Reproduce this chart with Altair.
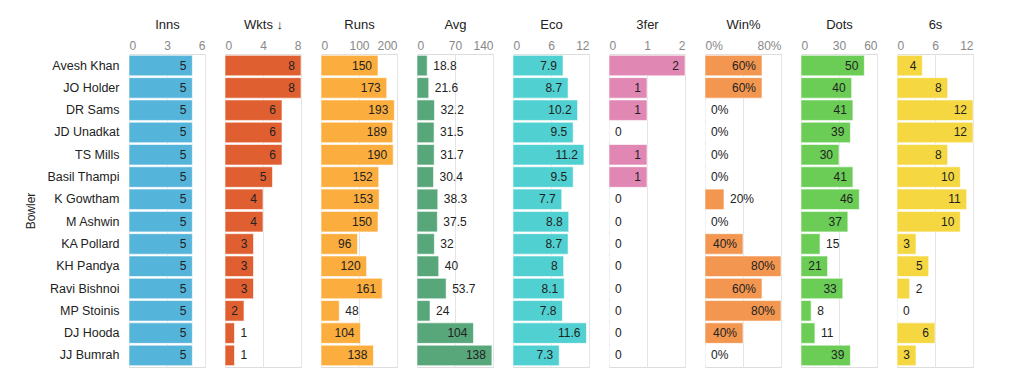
import altair as alt
import pandas as pd

bowlers = ["Avesh Khan", "JO Holder", "DR Sams", "JD Unadkat", "TS Mills", "Basil Thampi",
           "K Gowtham", "M Ashwin", "KA Pollard", "KH Pandya", "Ravi Bishnoi", "MP Stoinis",
           "DJ Hooda", "JJ Bumrah"]
inns = [5, 5, 5, 5, 5, 5, 5, 5, 5, 5, 5, 5, 5, 5]
wkts = [8, 8, 6, 6, 6, 5, 4, 4, 3, 3, 3, 2, 1, 1]
runs = [150, 173, 193, 189, 190, 152, 153, 150, 96, 120, 161, 48, 104, 138]
avg = [18.8, 21.6, 32.2, 31.5, 31.7, 30.4, 38.3, 37.5, 32, 40, 53.7, 24, 104, 138]
eco = [7.9, 8.7, 10.2, 9.5, 11.2, 9.5, 7.7, 8.8, 8.7, 8, 8.1, 7.8, 11.6, 7.3]
three_fer = [2, 1, 1, 0, 1, 1, 0, 0, 0, 0, 0, 0, 0, 0]
win_pct = [0.6, 0.6, 0, 0, 0, 0, 0.2, 0, 0.4, 0.8, 0.6, 0.8, 0.4, 0]
dots = [50, 40, 41, 39, 30, 41, 46, 37, 15, 21, 33, 8, 11, 39]
sixes = [4, 8, 12, 12, 8, 10, 11, 10, 3, 5, 2, 0, 6, 3]

titles = ["Inns", "Wkts ↓", "Runs", "Avg", "Eco", "3fer", "Win%", "Dots", "6s"]
series = [inns, wkts, runs, avg, eco, three_fer, win_pct, dots, sixes]
domains = [[0, 6], [0, 8], [0, 200], [0, 140], [0, 12], [0, 2], [0, 0.8], [0, 60], [0, 12]]
ticks = [[0, 3, 6], [0, 4, 8], [0, 100, 200], [0, 70, 140], [0, 6, 12], [0, 1, 2],
         [0, 0.4, 0.8], [0, 30, 60], [0, 6, 12]]
colors = ["#55b4d9", "#e05f31", "#fbad3d", "#57a77b", "#51d0d1", "#e187b4",
          "#f39650", "#6bcd56", "#f5d742"]

W = 76
H = 313
FONT = "Liberation Sans"


def fmt(v, is_pct):
    if is_pct:
        return f"{round(v * 100)}%"
    if float(v).is_integer():
        return str(int(v))
    return f"{v:g}"


panels = []
for i, (t, vals, dom, tk, col) in enumerate(zip(titles, series, domains, ticks, colors)):
    is_pct = t == "Win%"
    labels = [fmt(v, is_pct) for v in vals]
    inside = [(v / dom[1]) * W >= len(l) * 7 + 8 for v, l in zip(vals, labels)]
    df = pd.DataFrame({"Bowler": bowlers, "value": vals, "label": labels, "inside": inside})

    if i == 0:
        yax = alt.Axis(title="Bowler", ticks=False, domain=False, labelPadding=10,
                       labelFontSize=12.5, labelColor="#222", titleFontSize=12,
                       titleFontWeight="normal", titleColor="#222", titlePadding=9)
    else:
        yax = None

    axis_kw = dict(orient="top", title=t, values=tk, ticks=False, labelFlush=True,
                   domain=False, grid=True, gridColor="#e4e4e4", labelColor="#888",
                   labelFontSize=12, titleFontSize=13, titleFontWeight="normal",
                   titleColor="#222", titlePadding=8, labelPadding=2, labelOverlap=False)
    if is_pct:
        axis_kw["format"] = ".0%"
        axis_kw["labelExpr"] = "datum.value > 0.3 && datum.value < 0.5 ? '' : datum.label"
    else:
        axis_kw["format"] = ".0f"
    xax = alt.Axis(**axis_kw)

    y = alt.Y("Bowler:N", sort=bowlers, axis=yax,
              scale=alt.Scale(paddingInner=0.08, paddingOuter=0.06))
    x = alt.X("value:Q", axis=xax, scale=alt.Scale(domain=dom, nice=False))

    base = alt.Chart(df).encode(x=x, y=y)
    bars = base.mark_bar(color=col, stroke="white", strokeWidth=1, strokeOpacity=0.6)
    txt_in = base.transform_filter("datum.inside").mark_text(
        align="right", dx=-6, fontSize=12, color="#222").encode(text="label:N")
    txt_out = base.transform_filter("!datum.inside").mark_text(
        align="left", dx=6, fontSize=12, color="#222").encode(text="label:N")
    panels.append(alt.layer(bars, txt_in, txt_out).properties(width=W, height=H))

chart = alt.hconcat(*panels, spacing=20, bounds="flush").properties(
    padding={"left": 16, "top": 9, "right": 5, "bottom": 5}
).configure_view(stroke=None).configure(font=FONT)

chart.save("out.html", embed_options={"renderer": "svg", "actions": False})
